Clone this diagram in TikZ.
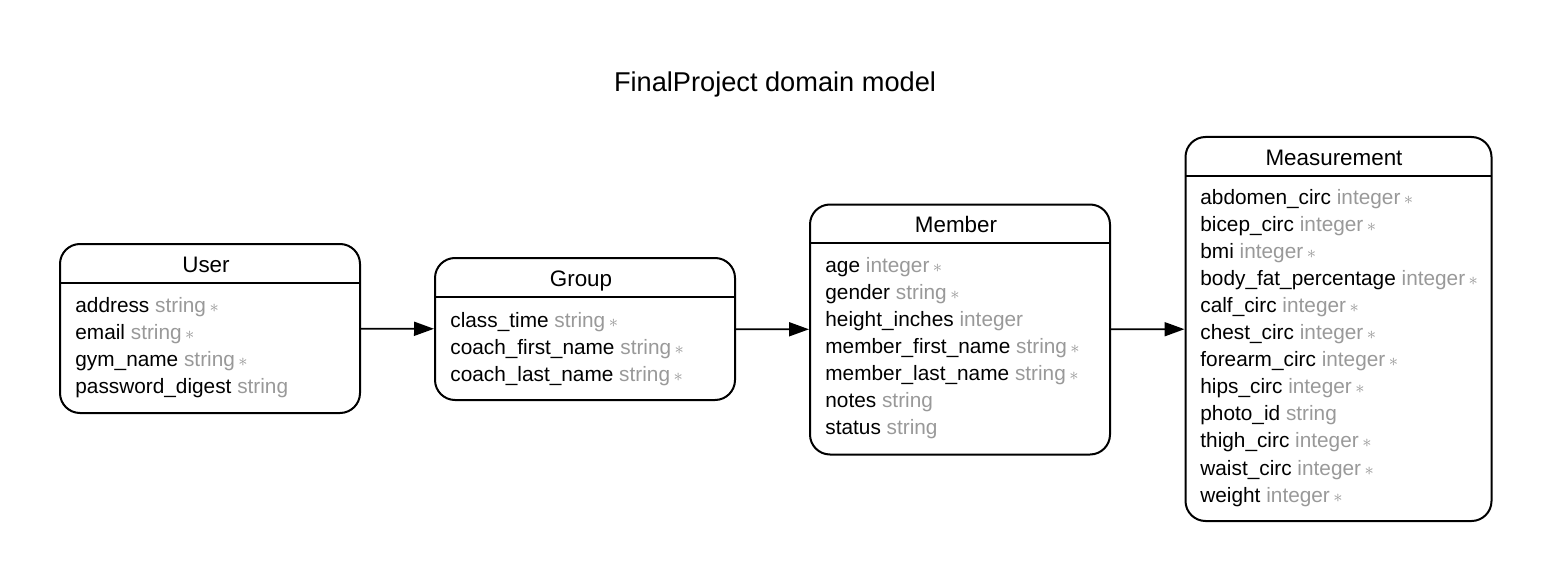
\documentclass[tikz,border=0pt]{standalone}
\usepackage{fontspec}
\setmainfont{Liberation Sans}
\usetikzlibrary{arrows.meta}
\definecolor{typegray}{HTML}{999999}
\newcommand\req{\,{\fontsize{9}{9}\selectfont$\ast$}}
\tikzset{
  entity/.style={draw,line width=1pt,rounded corners=10pt,inner sep=0pt},
  head/.style={anchor=base,font=\fontsize{11.2}{13}\selectfont,inner sep=0pt},
  field/.style={anchor=base west,font=\fontsize{10.4}{13}\selectfont,inner sep=0pt},
  link/.style={line width=0.9pt,-{Triangle[length=10pt,width=7pt]}}
}
\begin{document}
\begin{tikzpicture}[x=.5pt,y=-.5pt]
			\useasboundingbox (0,0) rectangle (1552,583);
			\node[anchor=base,font=\fontsize{13.6}{16}\selectfont,inner sep=0pt] (title) at (775,92) {FinalProject domain model};
			\node[entity,minimum width=150pt,minimum height=84.5pt] (user) at (210,328.5) {};
			\node[entity,minimum width=150pt,minimum height=71pt] (group) at (585,329) {};
			\node[entity,minimum width=150pt,minimum height=125pt] (member) at (960,329.5) {};
			\node[entity,minimum width=153pt,minimum height=192pt] (measurement) at (1338.5,329) {};
			\draw[line width=1pt] (60,283)--(360,283);
			\draw[line width=1pt] (435,297)--(735,297);
			\draw[line width=1pt] (810,243)--(1110,243);
			\draw[line width=1pt] (1185,176)--(1492,176);
			\node[head] (userhead) at (206,272) {User};
			\node[head] (grouphead) at (581,286) {Group};
			\node[head] (memberhead) at (956,232) {Member};
			\node[head] (measurementhead) at (1334,165) {Measurement};
			\foreach \n/\t/\s [count=\i] in {address/string/\req,email/string/\req,gym\_name/string/\req,password\_digest/string/{}}
			\node[field] (userfield\i) at (75,312+27*\i-27) {\n\ \textcolor{typegray}{\t\s}};
			\foreach \n/\t/\s [count=\i] in {class\_time/string/\req,coach\_first\_name/string/\req,coach\_last\_name/string/\req}
			\node[field] (groupfield\i) at (450,327+27*\i-27) {\n\ \textcolor{typegray}{\t\s}};
			\foreach \n/\t/\s [count=\i] in {age/integer/\req,gender/string/\req,height\_inches/integer/{},member\_first\_name/string/\req,member\_last\_name/string/\req,notes/string/{},status/string/{}}
			\node[field] (memberfield\i) at (825,272+27*\i-27) {\n\ \textcolor{typegray}{\t\s}};
			\foreach \n/\t/\s [count=\i] in {abdomen\_circ/integer/\req,bicep\_circ/integer/\req,bmi/integer/\req,body\_fat\_percentage/integer/\req,calf\_circ/integer/\req,chest\_circ/integer/\req,forearm\_circ/integer/\req,hips\_circ/integer/\req,photo\_id/string/{},thigh\_circ/integer/\req,waist\_circ/integer/\req,weight/integer/\req}
			\node[field] (measurementfield\i) at (1200,204+27.1*\i-27.1) {\n\ \textcolor{typegray}{\t\s}};
			\draw[link] (user)--(group);
			\draw[link] (group)--(member);
			\draw[link] (member)--(measurement);
		\end{tikzpicture}
\end{document}
